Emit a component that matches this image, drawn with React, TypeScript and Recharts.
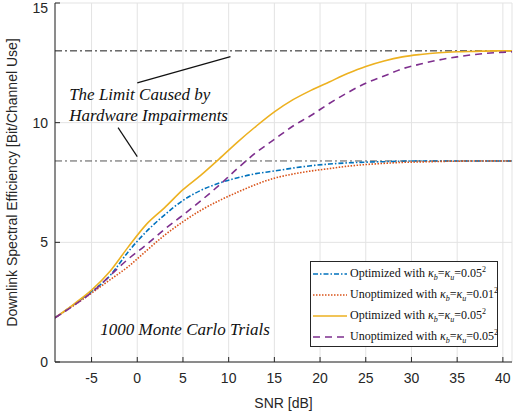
import {
  LineChart, Line, XAxis, YAxis, CartesianGrid, ReferenceLine, ReferenceDot, Label,
} from 'recharts'

// SNR sample points [dB]
const snr = [-9, -7, -5, -3, -1, 1, 3, 5, 7, 9, 11, 13, 15, 17, 19, 21, 23, 25, 27, 29, 31, 33, 35, 37, 39, 41]

// Spectral efficiency per curve [bit/channel use]
const optimizedLow = [1.85, 2.38, 2.95, 3.6, 4.6, 5.45, 6.15, 6.75, 7.18, 7.48, 7.7, 7.87, 7.98, 8.1, 8.2, 8.27, 8.32, 8.35, 8.37, 8.39, 8.4, 8.4, 8.4, 8.4, 8.4, 8.4]
const unoptimizedLow = [1.85, 2.35, 2.88, 3.43, 3.98, 4.65, 5.3, 5.86, 6.35, 6.75, 7.1, 7.42, 7.68, 7.85, 7.98, 8.08, 8.18, 8.25, 8.3, 8.34, 8.36, 8.38, 8.39, 8.4, 8.4, 8.4]
const optimizedHigh = [1.85, 2.4, 3.0, 3.78, 4.8, 5.75, 6.45, 7.2, 7.82, 8.5, 9.2, 9.85, 10.45, 10.95, 11.35, 11.7, 12.05, 12.35, 12.58, 12.75, 12.85, 12.92, 12.96, 12.98, 13.0, 13.0]
const unoptimizedHigh = [1.85, 2.35, 2.9, 3.6, 4.3, 4.9, 5.55, 6.14, 6.75, 7.4, 8.1, 8.75, 9.3, 9.85, 10.3, 10.8, 11.25, 11.65, 11.95, 12.25, 12.45, 12.62, 12.75, 12.85, 12.92, 12.96]

// Hardware impairment limits
const limitLow = 8.4
const limitHigh = 13

// pointer segments from the annotation text to the limits
const pointerHigh = [{ x: 0, y: 11.66 }, { x: 10.2, y: 12.76 }]
const pointerLow = [{ x: -2.1, y: 9.79 }, { x: 0, y: 8.58 }]

const xTicks = [-5, 0, 5, 10, 15, 20, 25, 30, 35, 40]
const yTicks = [0, 5, 10, 15]

const data = snr.map((s, i) => ({
  snr: s,
  optLow: optimizedLow[i],
  unoptLow: unoptimizedLow[i],
  optHigh: optimizedHigh[i],
  unoptHigh: unoptimizedHigh[i],
}))

const SERIES = [
  { key: 'optLow', color: '#0072BD', dash: '5 2 1.5 2', width: 1.6, label: 'Optimized with', kappa: '0.05' },
  { key: 'unoptLow', color: '#D95319', dash: '1.5 1.5', width: 1.6, label: 'Unoptimized with', kappa: '0.01' },
  { key: 'optHigh', color: '#EDB120', dash: undefined, width: 1.6, label: 'Optimized with', kappa: '0.05' },
  { key: 'unoptHigh', color: '#7E2F8E', dash: '7 5', width: 1.6, label: 'Unoptimized with', kappa: '0.05' },
]

const AXIS = '#262626'
const SERIF = '"Liberation Serif", "Times New Roman", serif'
const SANS = '"Liberation Sans", Arial, sans-serif'

function textAt(lines: string[], lineGap: number) {
  return ({ viewBox }: any) => (
    <text x={viewBox.x} y={viewBox.y} fill="#111" fontFamily={SERIF} fontStyle="italic" fontSize={17}>
      {lines.map((t, i) => (
        <tspan key={i} x={viewBox.x} dy={i === 0 ? 0 : lineGap}>{t}</tspan>
      ))}
    </text>
  )
}

function ChartLegend() {
  return (
    <div style={{
      position: 'absolute', left: 310, top: 261, width: 188, height: 86,
      border: `1px solid ${AXIS}`, background: '#fff', paddingTop: 1, boxSizing: 'border-box',
      fontFamily: SERIF, fontSize: 12, color: '#111',
    }}>
      {SERIES.map(s => (
        <div key={s.key} style={{ display: 'flex', alignItems: 'center', height: 21 }}>
          <svg width={37} height={6} style={{ marginLeft: 1, flexShrink: 0 }}>
            <line x1={1} y1={3} x2={35} y2={3} stroke={s.color} strokeWidth={s.width} strokeDasharray={s.dash} />
          </svg>
          <span style={{ whiteSpace: 'nowrap', marginLeft: 1 }}>
            {s.label} <i>κ</i><sub style={{ fontSize: 8, fontStyle: 'italic' }}>b</sub>=<i>κ</i>
            <sub style={{ fontSize: 8, fontStyle: 'italic' }}>u</sub>={s.kappa}
            <sup style={{ fontSize: 8 }}>2</sup>
          </span>
        </div>
      ))}
    </div>
  )
}

export default function App() {
  return (
    <div style={{ position: 'absolute', left: 0, top: 0, width: 515, height: 415, background: '#fff' }}>
      <LineChart width={515} height={415} data={data} margin={{ top: 3, right: 3, left: 0, bottom: 0 }}
        style={{ fontFamily: SANS }}>
        <CartesianGrid stroke="#e3e3e3" strokeWidth={1} />
        <XAxis
          dataKey="snr" type="number" domain={[-9, 41]} ticks={xTicks} allowDataOverflow
          height={53} stroke={AXIS} tickSize={-5} tickMargin={16}
          tick={{ fontSize: 14, fill: AXIS }}
        >
          <Label value="SNR [dB]" position="insideBottom" offset={7} fill={AXIS} fontSize={14} />
        </XAxis>
        <XAxis xAxisId="top" orientation="top" type="number" domain={[-9, 41]} ticks={xTicks}
          height={0} stroke={AXIS} tickSize={-5} tick={false} />
        <YAxis
          type="number" domain={[0, 15]} ticks={yTicks} width={55} stroke={AXIS}
          tickSize={-5} tickMargin={12} tick={{ fontSize: 14, fill: AXIS }}
        >
          <Label value="Downlink Spectral Efficiency [Bit/Channel Use]" angle={-90} position="insideLeft"
            offset={12} style={{ textAnchor: 'middle' }} fill={AXIS} fontSize={14} />
        </YAxis>
        <YAxis yAxisId="right" orientation="right" type="number" domain={[0, 15]} ticks={yTicks}
          width={0} stroke={AXIS} tickSize={-5} tick={false} />

        <ReferenceLine y={limitHigh} stroke="#1a1a1a" strokeWidth={1} strokeDasharray="7 3 2 3" />
        <ReferenceLine y={limitLow} stroke="#555" strokeWidth={1} strokeDasharray="7 3 2 3" />
        <ReferenceLine segment={pointerHigh} stroke="#111" strokeWidth={1.2} />
        <ReferenceLine segment={pointerLow} stroke="#111" strokeWidth={1.2} />

        {SERIES.map(s => (
          <Line key={s.key} dataKey={s.key} type="monotone" stroke={s.color} strokeWidth={s.width}
            strokeDasharray={s.dash} dot={false} activeDot={false} isAnimationActive={false} />
        ))}

        <ReferenceDot x={-7.45} y={10.95} r={0} stroke="none"
          label={textAt(['The Limit Caused by', 'Hardware Impairments'], 21)} />
        <ReferenceDot x={-4.05} y={1.13} r={0} stroke="none"
          label={textAt(['1000 Monte Carlo Trials'], 0)} />
      </LineChart>
      <ChartLegend />
    </div>
  )
}
